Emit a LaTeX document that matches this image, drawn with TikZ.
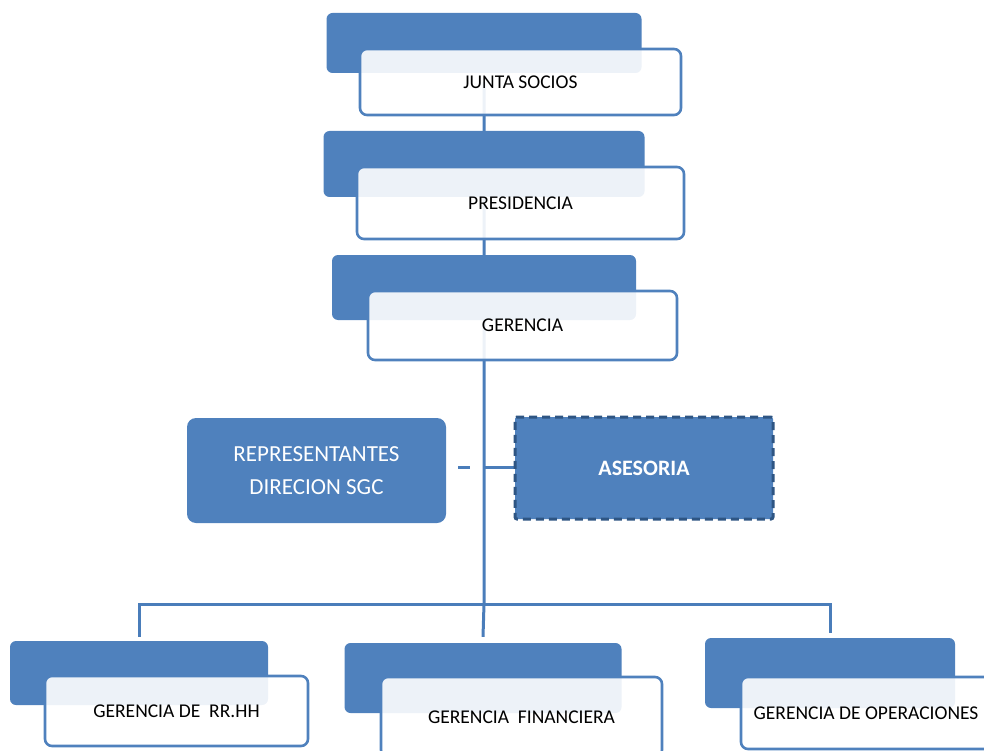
\documentclass[tikz,border=0pt]{standalone}
\usepackage{fontspec}
\setmainfont{Carlito}
\pgfdeclarelayer{bg}
\pgfsetlayers{bg,main}
\definecolor{obl}{HTML}{4F81BD}
\definecolor{oline}{HTML}{4A7DBA}
\definecolor{odark}{HTML}{2E5583}
\tikzset{
  backbox/.style={fill=obl, draw=none, rounded corners=6pt, inner sep=0pt},
  frontbox/.style={fill=white, fill opacity=0.9, text opacity=1, draw=obl, line width=2.6pt,
    rounded corners=7pt, inner sep=0pt, align=center, font=\fontsize{19.5}{23}\selectfont},
  conn/.style={draw=oline, line width=3pt},
}
\begin{document}
\begin{tikzpicture}[x=1pt,y=-1pt]
\useasboundingbox (0,0) rectangle (984,751);
\begin{scope}
\clip (0,0) rectangle (984,751);
% top chain
\node[backbox, minimum width=315pt, minimum height=60pt] (jb) at (484,43) {};
\node[frontbox, minimum width=321pt, minimum height=66pt] (jw) at (520.5,82) {JUNTA SOCIOS};
\node[backbox, minimum width=321pt, minimum height=66pt] (pb) at (484,164) {};
\node[frontbox, minimum width=327pt, minimum height=72pt] (pw) at (520.5,203) {PRESIDENCIA};
\node[backbox, minimum width=304pt, minimum height=65pt] (gb) at (484,287.5) {};
\node[frontbox, minimum width=309pt, minimum height=69pt] (gw) at (522.5,325.5) {GERENCIA};
% side boxes
\node[fill=obl, rounded corners=9pt, inner sep=0pt, minimum width=259pt, minimum height=105pt,
  text=white, align=center, font=\fontsize{23}{33}\selectfont] (rep) at (316.5,470.5)
  {REPRESENTANTES\\DIRECION SGC};
\node[fill=obl, draw=odark, line width=3pt, dash pattern=on 8pt off 5pt, rounded corners=2pt,
  inner sep=0pt, minimum width=258pt, minimum height=102pt,
  text=white, font=\bfseries\fontsize{22}{26}\selectfont] (as) at (644,468) {ASESORIA};
% bottom row
\node[backbox, minimum width=258pt, minimum height=64pt] (rb) at (139,673) {};
\node[frontbox, minimum width=263pt, minimum height=70pt] (rw) at (176.5,711) {GERENCIA DE \ RR.HH};
\node[backbox, minimum width=277pt, minimum height=70pt] (fb) at (483,678) {};
\node[frontbox, minimum width=281pt, minimum height=80pt] (fw) at (521.5,717) {GERENCIA \ FINANCIERA};
\node[backbox, minimum width=250pt, minimum height=70pt] (ob) at (830,673) {};
\node[frontbox, minimum width=250pt, minimum height=72pt] (ow) at (866,713) {GERENCIA DE OPERACIONES};
\end{scope}
% connectors
\coordinate (bar) at (484,604);
\coordinate (vx) at (484,467);
\begin{pgfonlayer}{bg}
\draw[conn] (jb.center |- jw.center) -- (pb.center) -- (gb.center) -- (bar) -- ([yshift=6pt]fb.north);
\draw[conn] ([yshift=4pt]rb.north) |- (bar) -| ([yshift=5pt]ob.north);
\draw[conn] (vx) -- (vx -| as.west);
\draw[conn, dash pattern=on 0pt off 12pt on 12pt off 100pt] (vx -| rep.east) -- (vx);
\end{pgfonlayer}
\end{tikzpicture}
\end{document}
